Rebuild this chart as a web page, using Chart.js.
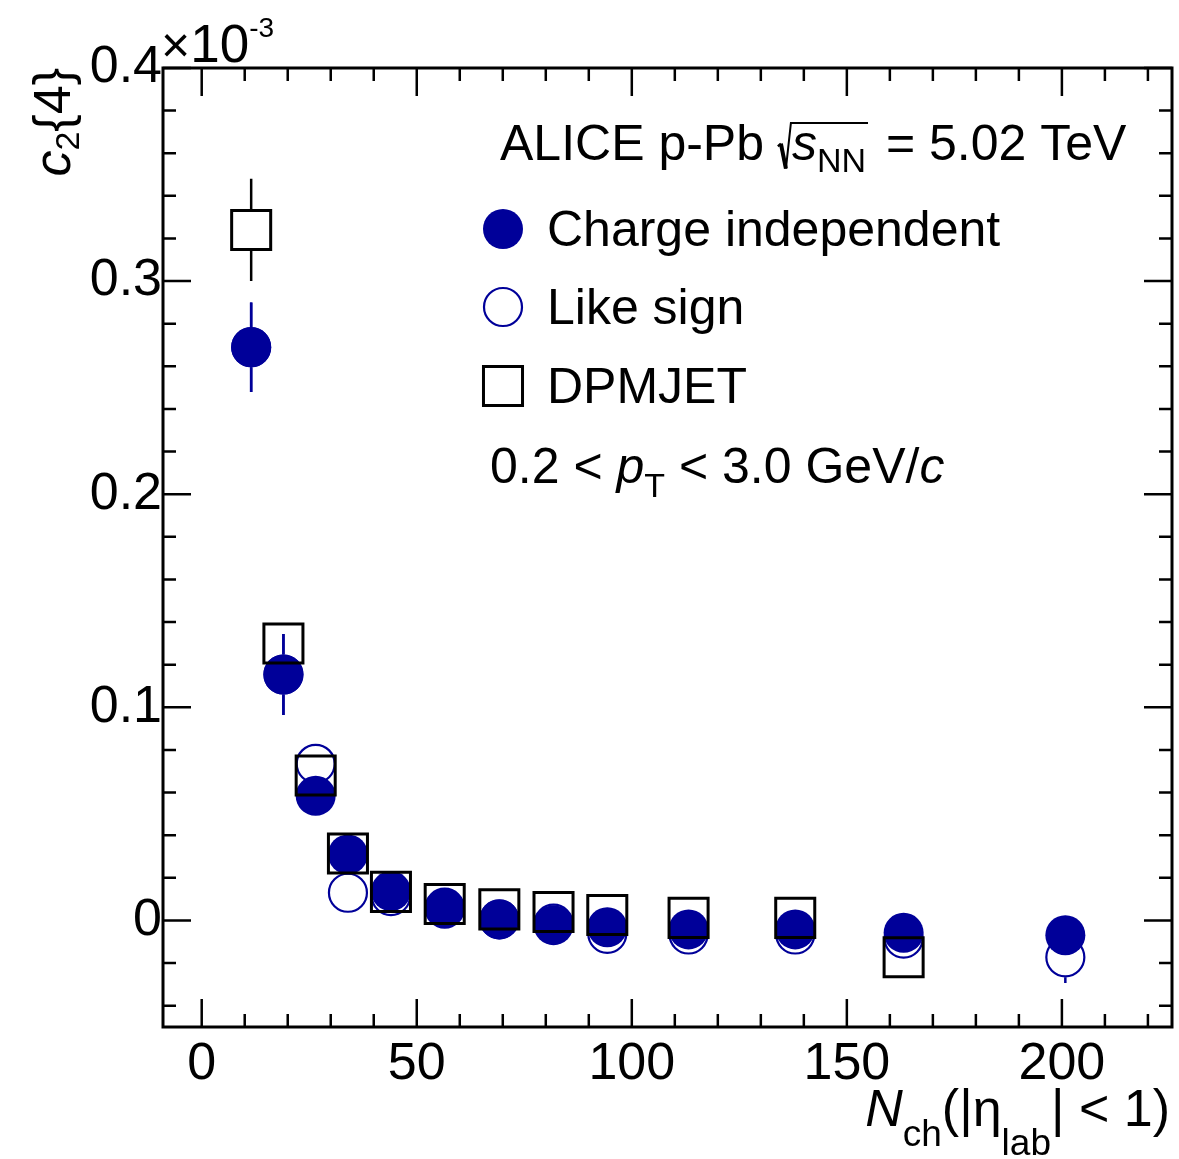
<!DOCTYPE html>
<html>
<head>
<meta charset="utf-8">
<script src="https://cdn.jsdelivr.net/npm/chart.js@4.4.0/dist/chart.umd.min.js"></script>
<style>
  body { margin: 0; background: #fff; }
  canvas { display: block; }
</style>
</head>
<body>
<canvas id="c2-chart" width="1179" height="1159"></canvas>
<script>
// N_ch bin centres
const nch = [11.5, 19.0, 26.5, 34.0, 44.0, 56.5, 69.2, 81.8, 94.3, 113.2, 138.0, 163.2, 200.8];
// c2{4} values, in units of 1e-3
const chargeIndep    = [0.269, 0.1154, 0.0585, 0.031, 0.0138, 0.0055, 0.0005, -0.0022, -0.0032, -0.0042, -0.0042, -0.0058, -0.0069];
const chargeIndepErr = [0.021, 0.019, 0.004, 0.003, 0.002, 0.002, 0.002, 0.002, 0.002, 0.002, 0.002, 0.003, 0.004];
const likeSign       = [0.269, 0.1154, 0.0735, 0.013, 0.0114, 0.006, 0.0005, -0.0015, -0.0063, -0.0066, -0.0066, -0.0085, -0.0173];
const likeSignErr    = [0.021, 0.019, 0.005, 0.004, 0.003, 0.003, 0.003, 0.003, 0.003, 0.003, 0.003, 0.004, 0.012];
const nchDpm         = [11.5, 19.0, 26.5, 34.0, 44.0, 56.5, 69.2, 81.8, 94.3, 113.2, 138.0, 163.2];
const dpmjet         = [0.324, 0.130, 0.068, 0.0314, 0.0134, 0.0077, 0.0052, 0.004, 0.0026, 0.0012, 0.0012, -0.0173];
const dpmjetErr      = [0.024, 0.006, 0.004, 0.003, 0.002, 0.002, 0.002, 0.002, 0.002, 0.002, 0.002, 0.003];

const xTicks = [0, 50, 100, 150, 200];
const yTicks = [0, 0.1, 0.2, 0.3, 0.4];

const FONT = '"Liberation Sans", Arial, Helvetica, sans-serif';
const BLUE = '#000099';

function pts(xs, ys, es) {
  return xs.map((x, i) => ({ x: x, y: ys[i], err: es[i] }));
}

// vertical error bars, with a gap where the marker sits (ROOT style)
const errorBars = {
  id: 'errorBars',
  beforeDatasetsDraw(chart) {
    const ctx = chart.ctx, xs = chart.scales.x, ys = chart.scales.y;
    chart.data.datasets.forEach(ds => {
      const gap = ds.gap;
      ctx.save();
      ctx.strokeStyle = ds.borderColor;
      ctx.lineWidth = 2.5;
      ds.data.forEach(p => {
        const px = xs.getPixelForValue(p.x);
        const py = ys.getPixelForValue(p.y);
        const top = ys.getPixelForValue(p.y + p.err);
        const bot = ys.getPixelForValue(p.y - p.err);
        ctx.beginPath();
        if (py - top > gap) { ctx.moveTo(px, top); ctx.lineTo(px, py - gap); }
        if (bot - py > gap) { ctx.moveTo(px, py + gap); ctx.lineTo(px, bot); }
        ctx.stroke();
      });
      ctx.restore();
    });
  }
};

// rich text: list of segments {t, size, italic, dy}
function richWidth(ctx, segs) {
  let w = 0;
  segs.forEach(s => {
    if (s.sqrt) { w += s.w; return; }
    ctx.font = (s.italic ? 'italic ' : '') + s.size + 'px ' + FONT;
    w += ctx.measureText(s.t).width;
  });
  return w;
}
function drawRich(ctx, segs, x, y) {
  let cx = x, sqrtX = null;
  ctx.textBaseline = 'alphabetic';
  ctx.textAlign = 'left';
  segs.forEach(s => {
    if (s.sqrt === 'open') {
      sqrtX = cx;
      cx += s.w;
      return;
    }
    if (s.sqrt === 'close') {
      const h = s.h;
      ctx.save();
      ctx.lineWidth = 2.5;
      ctx.beginPath();
      ctx.moveTo(sqrtX, y - h * 0.35);
      ctx.lineTo(sqrtX + 3, y - h * 0.42);
      ctx.stroke();
      ctx.lineWidth = 4;
      ctx.beginPath();
      ctx.moveTo(sqrtX + 3, y - h * 0.42);
      ctx.lineTo(sqrtX + 8, y + h * 0.22);
      ctx.stroke();
      ctx.lineWidth = 2;
      ctx.beginPath();
      ctx.moveTo(sqrtX + 8, y + h * 0.22);
      ctx.lineTo(sqrtX + 13, y - h * 0.95);
      ctx.lineTo(cx + 2, y - h * 0.95);
      ctx.stroke();
      ctx.restore();
      cx += s.w;
      return;
    }
    ctx.font = (s.italic ? 'italic ' : '') + s.size + 'px ' + FONT;
    ctx.fillText(s.t, cx, y + (s.dy || 0));
    cx += ctx.measureText(s.t).width;
  });
}

const frameAndText = {
  id: 'frameAndText',
  afterDatasetsDraw(chart) {
    const ctx = chart.ctx, a = chart.chartArea, xs = chart.scales.x, ys = chart.scales.y;
    ctx.save();
    ctx.strokeStyle = '#000';
    ctx.lineWidth = 2.5;
    // x ticks (bottom + top), major 0,50..., minor every 10
    for (let v = 0; v <= xs.max; v += 10) {
      const px = xs.getPixelForValue(v);
      const len = (v % 50 === 0) ? 28 : 13;
      ctx.beginPath();
      ctx.moveTo(px, a.bottom); ctx.lineTo(px, a.bottom - len);
      ctx.moveTo(px, a.top); ctx.lineTo(px, a.top + len);
      ctx.stroke();
    }
    // y ticks (left + right), major every 0.1, minor every 0.02
    for (let k = -2; k <= 20; k++) {
      const v = k * 0.02;
      const py = ys.getPixelForValue(v);
      const len = (k % 5 === 0) ? 28 : 13;
      ctx.beginPath();
      ctx.moveTo(a.left, py); ctx.lineTo(a.left + len, py);
      ctx.moveTo(a.right, py); ctx.lineTo(a.right - len, py);
      ctx.stroke();
    }
    ctx.lineWidth = 3;
    ctx.strokeRect(a.left, a.top, a.right - a.left, a.bottom - a.top);
    ctx.restore();
  },
  afterDraw(chart) {
    const ctx = chart.ctx, a = chart.chartArea;
    ctx.save();
    ctx.fillStyle = '#000';
    ctx.strokeStyle = '#000';

    // exponent
    drawRich(ctx, [
      { t: '\u00d7', size: 50 },
      { t: '10', size: 53 },
      { t: '-3', size: 28, dy: -25 }
    ], a.left - 2, 62);

    // y title, rotated, right-aligned at top of frame
    const ySegs = [
      { t: 'c', size: 52, italic: true },
      { t: '2', size: 34, dy: 9 },
      { t: '{4}', size: 52 }
    ];
    ctx.save();
    ctx.translate(70, a.top);
    ctx.rotate(-Math.PI / 2);
    drawRich(ctx, ySegs, -richWidth(ctx, ySegs), 0);
    ctx.restore();

    // x title, right-aligned at frame right
    const xSegs = [
      { t: 'N', size: 52, italic: true },
      { t: 'ch', size: 37, dy: 20 },
      { t: '(|\u03b7', size: 52 },
      { t: 'lab', size: 37, dy: 29 },
      { t: '| < 1)', size: 52 }
    ];
    drawRich(ctx, xSegs, a.right - 2 - richWidth(ctx, xSegs), 1126);

    // header
    drawRich(ctx, [
      { t: 'ALICE p-Pb ', size: 50 },
      { sqrt: 'open', w: 14 },
      { t: 's', size: 50, italic: true },
      { t: 'NN', size: 34, dy: 12 },
      { sqrt: 'close', w: 6, h: 50 * 0.78 },
      { t: ' = 5.02 TeV', size: 50 }
    ], 500, 160);

    // legend
    const ds = chart.data.datasets;
    const rows = [[0, 229], [1, 307], [2, 386]];
    rows.forEach(r => {
      const d = ds[r[0]];
      ctx.save();
      ctx.lineWidth = d.borderWidth;
      ctx.strokeStyle = d.borderColor;
      ctx.fillStyle = d.backgroundColor;
      Chart.helpers.drawPoint(ctx, { pointStyle: d.pointStyle, radius: d.pointRadius, borderWidth: d.borderWidth }, 503, r[1]);
      ctx.restore();
      ctx.fillStyle = '#000';
      drawRich(ctx, [{ t: d.label, size: 50 }], 547, r[1] + 17);
    });

    // pT range
    drawRich(ctx, [
      { t: '0.2 < ', size: 50 },
      { t: 'p', size: 50, italic: true },
      { t: 'T', size: 34, dy: 14 },
      { t: ' < 3.0 GeV/', size: 50 },
      { t: 'c', size: 50, italic: true }
    ], 490, 483);
    ctx.restore();
  }
};

new Chart(document.getElementById('c2-chart'), {
  type: 'scatter',
  data: {
    datasets: [
      {
        label: 'Charge independent',
        data: pts(nch, chargeIndep, chargeIndepErr),
        pointStyle: 'circle', pointRadius: 20, borderWidth: 0,
        backgroundColor: BLUE, borderColor: BLUE, gap: 20, order: 1
      },
      {
        label: 'Like sign',
        data: pts(nch, likeSign, likeSignErr),
        pointStyle: 'circle', pointRadius: 19, borderWidth: 2.2,
        backgroundColor: 'rgba(0,0,0,0)', borderColor: BLUE, gap: 20, order: 2
      },
      {
        label: 'DPMJET',
        data: pts(nchDpm, dpmjet, dpmjetErr),
        pointStyle: 'rect', pointRadius: 27.6, borderWidth: 3,
        backgroundColor: 'rgba(0,0,0,0)', borderColor: '#000', gap: 20, order: 0
      }
    ]
  },
  options: {
    responsive: false,
    animation: false,
    layout: { autoPadding: false, padding: { top: 68, right: 7, left: 0, bottom: 0 } },
    plugins: { legend: { display: false }, tooltip: { enabled: false } },
    scales: {
      x: {
        type: 'linear', min: -9, max: 225.6,
        grid: { display: false }, border: { display: false },
        ticks: {
          color: '#000', font: { family: FONT, size: 52 }, padding: -2,
          maxRotation: 0, autoSkip: false
        },
        afterBuildTicks: s => { s.ticks = xTicks.map(v => ({ value: v })); },
        afterFit: s => { s.height = 132; s.paddingLeft = 0; s.paddingRight = 0; }
      },
      y: {
        type: 'linear', min: -0.05, max: 0.4,
        grid: { display: false }, border: { display: false },
        ticks: {
          color: '#000', font: { family: FONT, size: 52 }, padding: -7,
          autoSkip: false,
          callback: v => (v === 0 ? '0' : v.toFixed(1))
        },
        afterBuildTicks: s => { s.ticks = yTicks.map(v => ({ value: v })); },
        afterFit: s => { s.width = 163; s.paddingTop = 0; s.paddingBottom = 0; }
      }
    }
  },
  plugins: [errorBars, frameAndText]
});
</script>
</body>
</html>
